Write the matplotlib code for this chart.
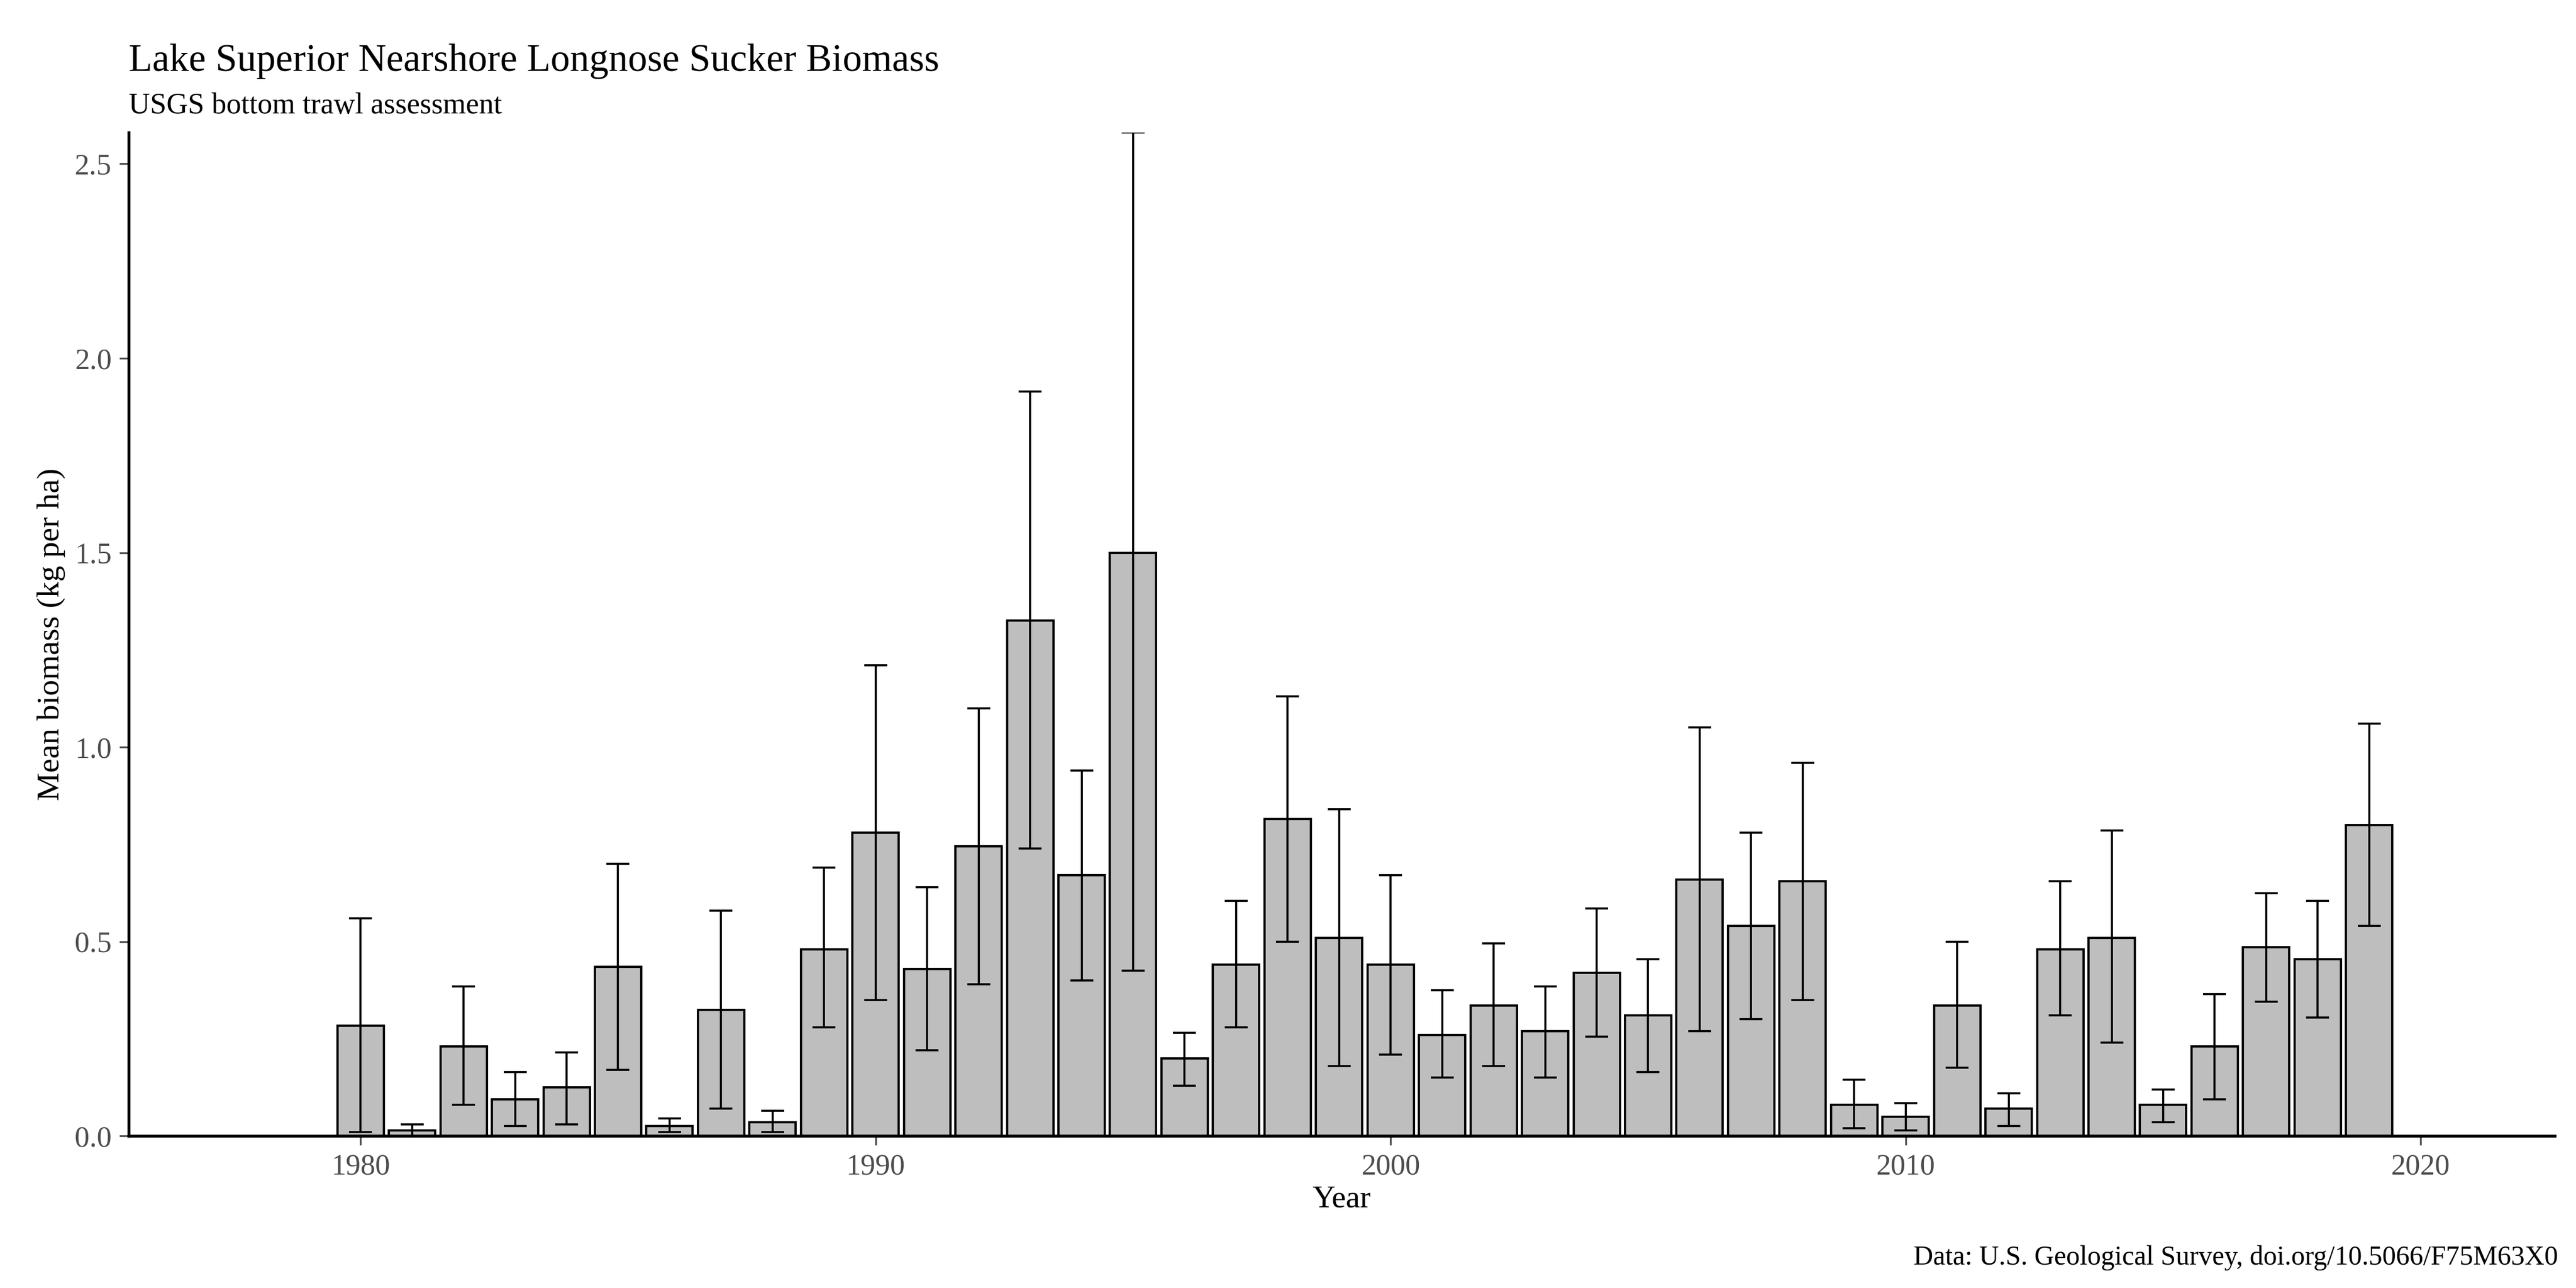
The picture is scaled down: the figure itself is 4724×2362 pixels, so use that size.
import matplotlib
matplotlib.use("Agg")
import matplotlib.pyplot as plt
import numpy as np

years = list(range(1980, 2020))
biomass = [0.284,0.015,0.23,0.095,0.125,0.435,0.025,0.325,0.035,0.48,
           0.78,0.43,0.745,1.325,0.67,1.50,0.20,0.44,0.815,0.51,
           0.44,0.26,0.335,0.27,0.42,0.31,0.66,0.54,0.655,0.08,
           0.05,0.335,0.07,0.48,0.51,0.08,0.23,0.485,0.455,0.80]
lower = [0.01,0.0,0.08,0.025,0.03,0.17,0.01,0.07,0.01,0.28,
         0.35,0.22,0.39,0.74,0.40,0.425,0.13,0.28,0.50,0.18,
         0.21,0.15,0.18,0.15,0.255,0.165,0.27,0.30,0.35,0.02,
         0.015,0.175,0.025,0.31,0.24,0.035,0.095,0.345,0.305,0.54]
upper = [0.56,0.03,0.385,0.165,0.215,0.70,0.045,0.58,0.065,0.69,
         1.21,0.64,1.10,1.915,0.94,2.58,0.265,0.605,1.13,0.84,
         0.67,0.375,0.495,0.385,0.585,0.455,1.05,0.78,0.96,0.145,
         0.085,0.50,0.11,0.655,0.785,0.12,0.365,0.625,0.605,1.06]

plt.rcParams['font.family'] = ['Liberation Serif', 'DejaVu Serif']
fig = plt.figure(figsize=(4724/300, 2362/300), dpi=300)
ax = fig.add_axes([0.05, 0.118, 0.9417, 0.779])
b = np.array(biomass)
yerr = [b - np.array(lower), np.array(upper) - b]
ax.bar(years, biomass, width=0.9, color='#bebebe', edgecolor='black', linewidth=1.0, zorder=2)
ax.errorbar(years, biomass, yerr=yerr, fmt='none', ecolor='black', elinewidth=0.9, capsize=5, capthick=0.9, zorder=3)
ax.set_xlim(1975.5, 2022.6)
ax.set_ylim(0, 2.58)
ax.set_xticks([1980, 1990, 2000, 2010, 2020])
ax.set_yticks([0.0, 0.5, 1.0, 1.5, 2.0, 2.5])
ax.set_yticklabels(['0.0', '0.5', '1.0', '1.5', '2.0', '2.5'])
for s in ['top', 'right']:
    ax.spines[s].set_visible(False)
for s in ['left', 'bottom']:
    ax.spines[s].set_linewidth(1.3)
ax.tick_params(labelsize=13, colors='#4d4d4d', labelcolor='#4d4d4d', length=4)
ax.set_xlabel('Year', fontsize=14, labelpad=2)
ax.set_ylabel('Mean biomass (kg per ha)', fontsize=14)
fig.text(0.05, 0.945, 'Lake Superior Nearshore Longnose Sucker Biomass', fontsize=17)
fig.text(0.05, 0.912, 'USGS bottom trawl assessment', fontsize=13)
fig.text(0.993, 0.018, 'Data: U.S. Geological Survey, doi.org/10.5066/F75M63X0', fontsize=12, ha='right')
fig.savefig('out.png', dpi=300)
